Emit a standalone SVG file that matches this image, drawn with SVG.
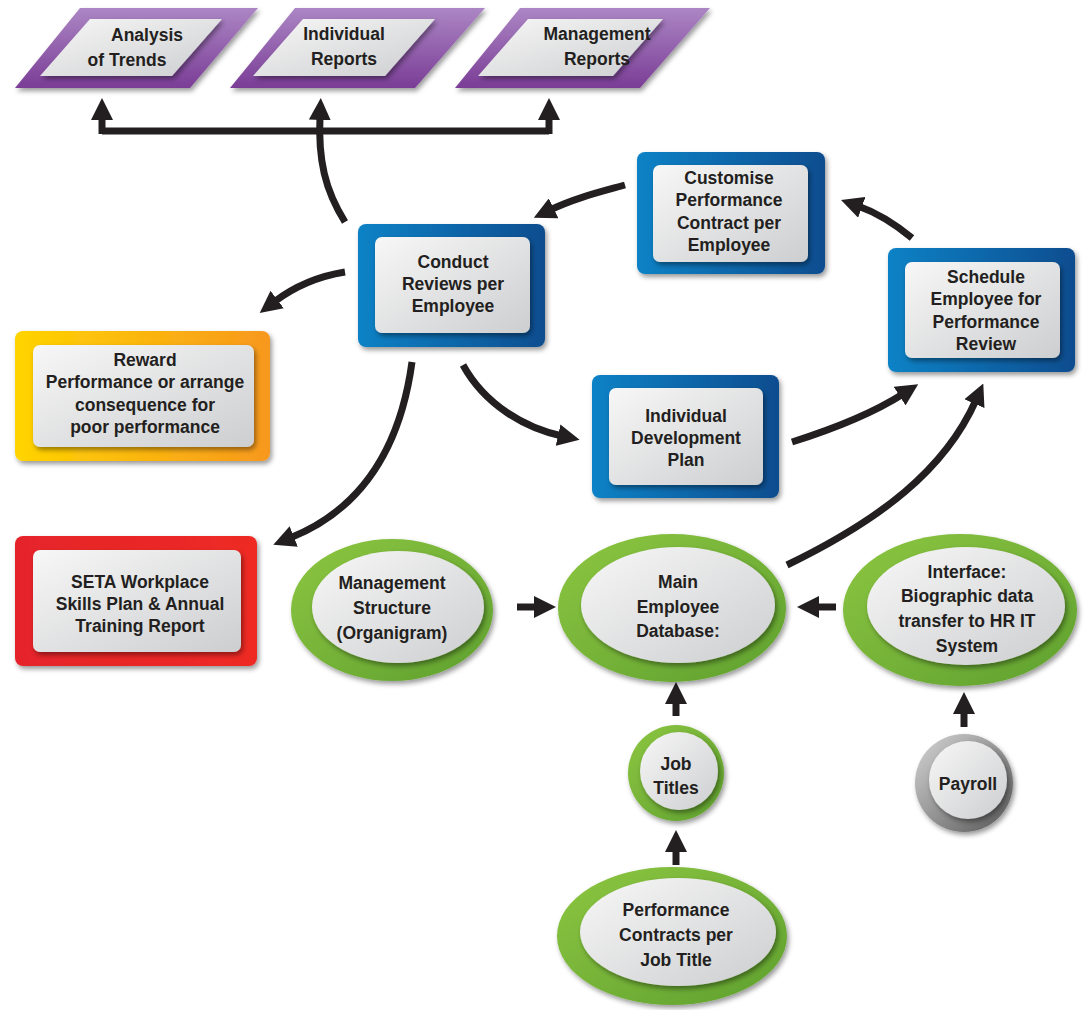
<svg xmlns="http://www.w3.org/2000/svg" width="1085" height="1010" viewBox="0 0 1085 1010">
<defs>
<linearGradient id="inner" x1="0" y1="0" x2="1" y2="1"><stop offset="0" stop-color="#f7f7f7"/><stop offset="1" stop-color="#cdced0"/></linearGradient>
<linearGradient id="blue" x1="0" y1="0" x2="1" y2="0"><stop offset="0" stop-color="#0b82c6"/><stop offset="1" stop-color="#0d4d8f"/></linearGradient>
<linearGradient id="purple" x1="0" y1="0" x2="0" y2="1"><stop offset="0" stop-color="#ac86c4"/><stop offset="1" stop-color="#7a3d96"/></linearGradient>
<linearGradient id="yo" x1="0" y1="0" x2="1" y2="0"><stop offset="0" stop-color="#ffd400"/><stop offset="1" stop-color="#f7981d"/></linearGradient>
<linearGradient id="red" x1="0" y1="0" x2="1" y2="0"><stop offset="0" stop-color="#e5242a"/><stop offset="1" stop-color="#ee2a24"/></linearGradient>
<linearGradient id="green" x1="0" y1="0" x2="1" y2="1"><stop offset="0" stop-color="#8dc641"/><stop offset="1" stop-color="#5ea02f"/></linearGradient>
<linearGradient id="gray" x1="0" y1="0" x2="1" y2="1"><stop offset="0" stop-color="#d6d6d6"/><stop offset="1" stop-color="#555"/></linearGradient>
<filter id="sh" x="-20%" y="-20%" width="140%" height="140%"><feDropShadow dx="2" dy="3" stdDeviation="2.5" flood-color="#000" flood-opacity="0.4"/></filter>
<marker id="ah" markerUnits="userSpaceOnUse" markerWidth="22" markerHeight="22" refX="4" refY="11" orient="auto"><path d="M0,0 L22,11 L0,22 Z" fill="#231f20"/></marker>
<style>
text{font-family:"Liberation Sans",Arial,sans-serif;font-weight:bold;font-size:17.5px;fill:#231f20;text-anchor:middle}
.c{fill:none;stroke:#231f20;stroke-width:7;marker-end:url(#ah)}
.in{fill:url(#inner);filter:url(#sh)}
</style>
</defs>
<g id="connectors">
<path d="M102,131 H549" fill="none" stroke="#231f20" stroke-width="7"/>
<path class="c" d="M102,134 V116"/>
<path class="c" d="M549,134 V116"/>
<path class="c" d="M345,222 C325,190 318,160 320,116"/>
<path class="c" d="M625,185 C600,192 575,198 550,210"/>
<path class="c" d="M912,238 C895,224 875,212 858,206"/>
<path class="c" d="M345,272 C320,276 295,286 274,302"/>
<path class="c" d="M463,365 C485,405 525,428 562,436"/>
<path class="c" d="M792,442 C830,430 870,415 903,394"/>
<path class="c" d="M412,362 C400,450 360,510 290,538"/>
<path class="c" d="M787,565 C880,520 945,470 976,400"/>
<path class="c" d="M517,607 H538"/>
<path class="c" d="M836,607 H815"/>
<path class="c" d="M676,716 V700"/>
<path class="c" d="M676,865 V848"/>
<path class="c" d="M964,727 V710"/>
</g>
<g id="analysis"><path d="M80,8 H258 L190,88 H15 Z" fill="url(#purple)" filter="url(#sh)"/><path d="M90,19 H222 L172,76 H40 Z" class="in"/><text x="147" y="41">Analysis</text><text x="127" y="66">of Trends</text></g>
<g id="individual"><path d="M295,8 H485 L415,88 H230 Z" fill="url(#purple)" filter="url(#sh)"/><path d="M303,19 H435 L385,76 H253 Z" class="in"/><text x="344" y="40">Individual</text><text x="344" y="65">Reports</text></g>
<g id="management"><path d="M520,8 H710 L640,88 H455 Z" fill="url(#purple)" filter="url(#sh)"/><path d="M528,19 H663 L613,76 H478 Z" class="in"/><text x="597" y="40">Management</text><text x="597" y="65">Reports</text></g>
<g id="conduct"><rect x="358" y="224" width="187" height="123" rx="8" fill="url(#blue)" filter="url(#sh)"/><rect x="375" y="237" width="155" height="96" rx="7" class="in"/><text x="453" y="268">Conduct</text><text x="453" y="290">Reviews per</text><text x="453" y="312">Employee</text></g>
<g id="customise"><rect x="637" y="152" width="188" height="122" rx="8" fill="url(#blue)" filter="url(#sh)"/><rect x="653" y="165" width="155" height="97" rx="7" class="in"/><text x="729" y="184">Customise</text><text x="729" y="206">Performance</text><text x="729" y="229">Contract per</text><text x="729" y="251">Employee</text></g>
<g id="schedule"><rect x="888" y="248" width="187" height="124" rx="8" fill="url(#blue)" filter="url(#sh)"/><rect x="905" y="262" width="155" height="96" rx="7" class="in"/><text x="986" y="283">Schedule</text><text x="986" y="305">Employee for</text><text x="986" y="328">Performance</text><text x="986" y="350">Review</text></g>
<g id="idp"><rect x="592" y="375" width="187" height="123" rx="8" fill="url(#blue)" filter="url(#sh)"/><rect x="609" y="388" width="154" height="97" rx="7" class="in"/><text x="686" y="422">Individual</text><text x="686" y="444">Development</text><text x="686" y="466">Plan</text></g>
<g id="reward"><rect x="15" y="331" width="255" height="130" rx="8" fill="url(#yo)" filter="url(#sh)"/><rect x="33" y="345" width="221" height="102" rx="7" class="in"/><text x="145" y="366">Reward</text><text x="145" y="388">Performance or arrange</text><text x="145" y="411">consequence for</text><text x="145" y="433">poor performance</text></g>
<g id="seta"><rect x="15" y="536" width="242" height="130" rx="8" fill="url(#red)" filter="url(#sh)"/><rect x="33" y="550" width="208" height="102" rx="7" class="in"/><text x="140" y="588">SETA Workplace</text><text x="140" y="610">Skills Plan &amp; Annual</text><text x="140" y="632">Training Report</text></g>
<g id="mgmtstructure"><ellipse cx="392" cy="610" rx="101" ry="71" fill="url(#green)" filter="url(#sh)"/><ellipse cx="398" cy="607" rx="86" ry="56" class="in"/><text x="392" y="589">Management</text><text x="392" y="614">Structure</text><text x="392" y="639">(Organigram)</text></g>
<g id="maindb"><ellipse cx="672" cy="608" rx="114" ry="74" fill="url(#green)" filter="url(#sh)"/><ellipse cx="678" cy="605" rx="97" ry="58" class="in"/><text x="678" y="588">Main</text><text x="678" y="613">Employee</text><text x="678" y="637">Database:</text></g>
<g id="interface"><ellipse cx="960" cy="610" rx="117" ry="76" fill="url(#green)" filter="url(#sh)"/><ellipse cx="966" cy="606" rx="99" ry="59" class="in"/><text x="967" y="578">Interface:</text><text x="967" y="602">Biographic data</text><text x="967" y="627">transfer to HR IT</text><text x="967" y="652">System</text></g>
<g id="jobtitles"><circle cx="676" cy="773" r="48" fill="url(#green)" filter="url(#sh)"/><circle cx="679" cy="771" r="39" class="in"/><text x="676" y="770">Job</text><text x="676" y="794">Titles</text></g>
<g id="payroll"><circle cx="964" cy="783" r="49" fill="url(#gray)" filter="url(#sh)"/><circle cx="968" cy="780" r="39" class="in"/><text x="968" y="790">Payroll</text></g>
<g id="perfcontracts"><ellipse cx="672" cy="936" rx="115" ry="69" fill="url(#green)" filter="url(#sh)"/><ellipse cx="678" cy="932" rx="98" ry="54" class="in"/><text x="676" y="916">Performance</text><text x="676" y="941">Contracts per</text><text x="676" y="966">Job Title</text></g>
</svg>
